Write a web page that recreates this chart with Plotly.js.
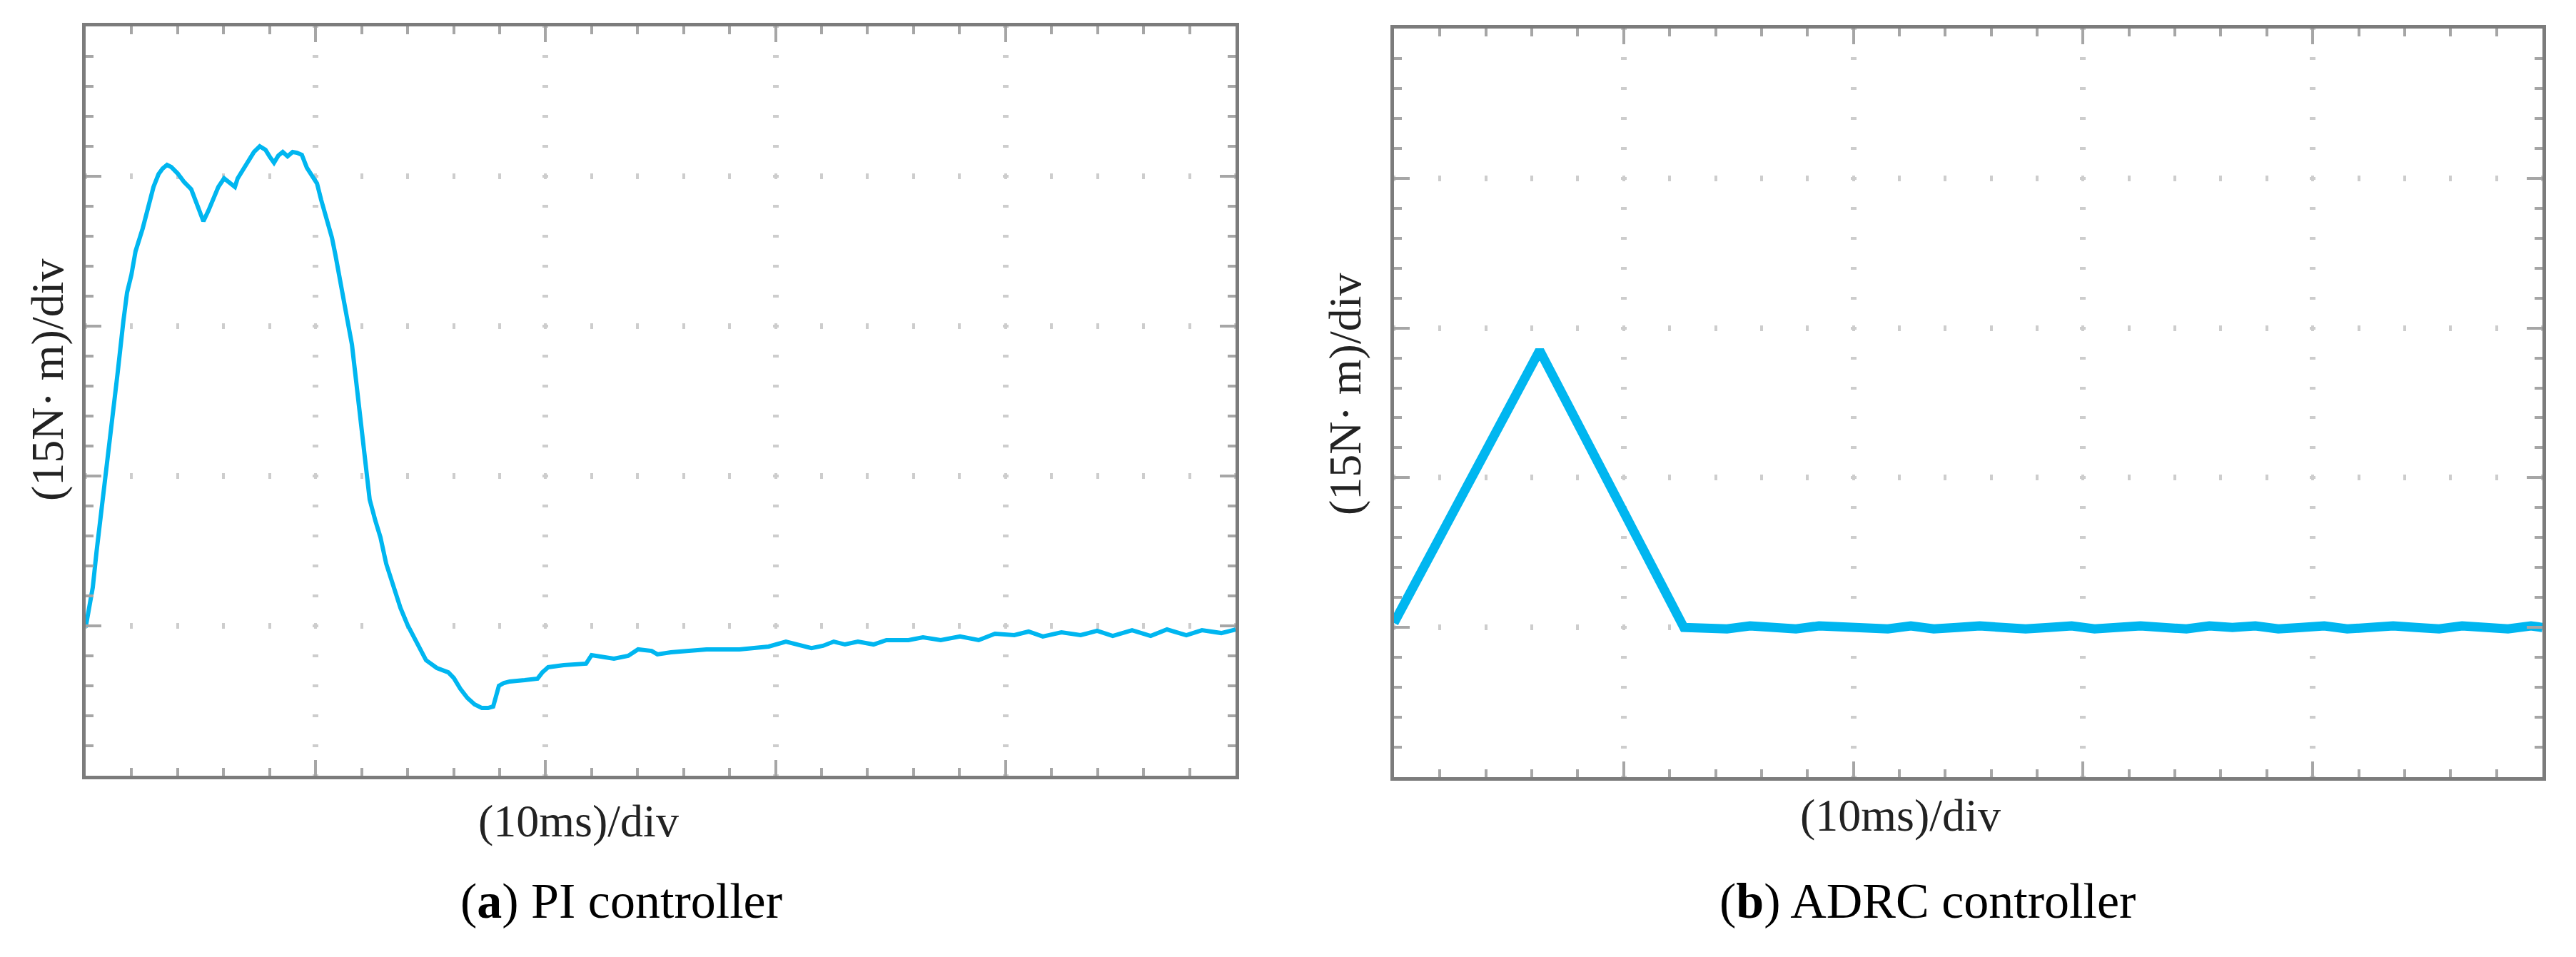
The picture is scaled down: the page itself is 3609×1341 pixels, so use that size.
<!DOCTYPE html>
<html>
<head>
<meta charset="utf-8">
<script src="https://cdn.plot.ly/plotly-3.0.1.min.js"></script>
<style>
html,body{margin:0;padding:0;background:#fff;}
#chart{width:3609px;height:1341px;}
</style>
</head>
<body>
<div id="chart"></div>
<script>
// ---- Data (in oscilloscope divisions: x = 10 ms/div, y = 15 N·m/div) ----
const piTime = [0,0.016,0.031,0.047,0.062,0.078,0.109,0.140,0.164,0.180,0.199,0.217,0.248,0.276,0.295,0.317,0.335,0.354,0.372,0.400,0.428,0.459,0.484,0.512,0.534,0.552,0.577,0.602,0.627,0.649,0.661,0.683,0.708,0.732,0.757,0.782,0.801,0.819,0.838,0.857,0.878,0.900,0.919,0.940,0.962,0.984,1.006,1.024,1.043,1.071,1.086,1.102,1.120,1.139,1.158,1.179,1.198,1.217,1.235,1.260,1.282,1.307,1.338,1.369,1.400,1.440,1.480,1.527,1.577,1.601,1.629,1.660,1.691,1.723,1.750,1.772,1.785,1.797,1.819,1.844,1.909,1.965,1.986,2.011,2.079,2.176,2.200,2.250,2.297,2.359,2.402,2.461,2.486,2.545,2.604,2.700,2.843,2.936,2.970,3.045,3.094,3.156,3.206,3.253,3.302,3.358,3.426,3.482,3.578,3.641,3.718,3.802,3.883,3.954,4.038,4.100,4.162,4.243,4.326,4.398,4.466,4.550,4.631,4.702,4.786,4.854,4.938,5.000];
const piTorque = [0.99,1.129,1.257,1.490,1.686,1.843,2.271,2.700,3.033,3.224,3.343,3.500,3.652,3.819,3.929,4.014,4.052,4.076,4.062,4.019,3.962,3.914,3.819,3.700,3.771,3.843,3.929,3.986,3.957,3.929,3.986,4.043,4.105,4.162,4.200,4.176,4.129,4.090,4.138,4.162,4.133,4.162,4.157,4.143,4.057,4.010,3.952,3.843,3.738,3.590,3.476,3.352,3.176,3.033,2.876,2.605,2.329,2.081,1.843,1.700,1.590,1.414,1.257,1.119,1.005,0.886,0.771,0.719,0.690,0.652,0.581,0.519,0.476,0.452,0.452,0.462,0.533,0.600,0.619,0.629,0.638,0.648,0.690,0.724,0.738,0.748,0.805,0.795,0.781,0.800,0.843,0.833,0.810,0.824,0.833,0.843,0.843,0.852,0.862,0.895,0.876,0.852,0.867,0.895,0.876,0.895,0.876,0.905,0.905,0.924,0.905,0.929,0.905,0.948,0.938,0.962,0.929,0.957,0.938,0.967,0.933,0.971,0.933,0.976,0.938,0.971,0.952,0.976];

const adrcTime = [0,0.634,1.262,1.35,1.45,1.55,1.65,1.75,1.85,1.95,2.05,2.15,2.25,2.35,2.45,2.55,2.65,2.75,2.85,2.95,3.05,3.15,3.25,3.35,3.45,3.55,3.65,3.75,3.85,3.95,4.05,4.15,4.25,4.35,4.45,4.55,4.65,4.75,4.85,4.95,5.0];
const adrcTorque = [1.03,2.85,1.00,1.00,0.99,1.01,1.00,0.99,1.01,1.00,1.00,0.99,1.01,0.99,1.00,1.01,1.00,0.99,1.00,1.01,0.99,1.00,1.01,1.00,0.99,1.01,1.00,1.01,0.99,1.00,1.01,0.99,1.00,1.01,1.00,0.99,1.01,1.00,0.99,1.01,1.00];

const xTitle = "(10ms)/div";
const yTitle = "(15N· m)/div";
const captionA = "(<b>a</b>) PI controller";
const captionB = "(<b>b</b>) ADRC controller";

// ---- Layout helpers (pixel -> paper) ----
const W = 3609, H = 1341;
const px = v => v / W;
const py = v => 1 - v / H;

const lineColor = '#00b6f0';
const axisColor = '#7c7c7c';
const tickColor = '#a6a6a6';
const gridColor = '#cdcdcd';
const serif = 'Liberation Serif, Times New Roman, serif';

function xAxis(domain, anchor, vPeriod) {
  const g = vPeriod - 4;
  return {
    domain: domain, anchor: anchor, range: [0, 5], fixedrange: true,
    showline: true, linecolor: axisColor, linewidth: 5, mirror: 'ticks',
    ticks: 'inside', ticklen: 22, tickwidth: 4, tickcolor: tickColor,
    tickmode: 'array', tickvals: [1, 2, 3, 4], showticklabels: false,
    showgrid: true, gridcolor: gridColor, gridwidth: 8,
    griddash: '2px,' + g.toFixed(2) + 'px,2px,0px',
    zeroline: false,
    minor: {ticks: 'inside', ticklen: 11, tickwidth: 4, tickcolor: tickColor,
            tickmode: 'linear', tick0: 0, dtick: 0.2, showgrid: false}
  };
}
function yAxis(domain, anchor, hPeriod) {
  const g = hPeriod - 4;
  return {
    domain: domain, anchor: anchor, range: [0, 5], fixedrange: true,
    showline: true, linecolor: axisColor, linewidth: 5, mirror: 'ticks',
    ticks: 'inside', ticklen: 22, tickwidth: 4, tickcolor: tickColor,
    tickmode: 'array', tickvals: [1, 2, 3, 4], showticklabels: false,
    showgrid: true, gridcolor: gridColor, gridwidth: 8,
    griddash: '2px,' + g.toFixed(2) + 'px,2px,0px',
    zeroline: false,
    minor: {ticks: 'inside', ticklen: 11, tickwidth: 4, tickcolor: tickColor,
            tickmode: 'linear', tick0: 0, dtick: 0.2, showgrid: false}
  };
}

// panel pixel boxes
const L = {x0: 120, x1: 1731, y0: 37, y1: 1087};
const R = {x0: 1953, x1: 3562, y0: 40, y1: 1089};

const traces = [
  {x: piTime, y: piTorque, xaxis: 'x', yaxis: 'y', type: 'scatter', mode: 'lines',
   line: {color: lineColor, width: 6}, hoverinfo: 'skip'},
  {x: adrcTime, y: adrcTorque, xaxis: 'x2', yaxis: 'y2', type: 'scatter', mode: 'lines',
   line: {color: lineColor, width: 13}, hoverinfo: 'skip'}
];

function ann(text, x, y, size, angle, color) {
  return {text: text, xref: 'paper', yref: 'paper', x: px(x), y: py(y),
          xanchor: 'center', yanchor: 'middle', showarrow: false, textangle: angle || 0,
          font: {family: serif, size: size, color: color}};
}

const layout = {
  width: W, height: H, autosize: false,
  margin: {l: 0, r: 0, t: 0, b: 0, pad: 0},
  paper_bgcolor: '#ffffff', plot_bgcolor: '#ffffff',
  showlegend: false,
  xaxis: xAxis([px(L.x0), px(L.x1)], 'y', (L.y1 - L.y0) / 25),
  yaxis: yAxis([py(L.y1), py(L.y0)], 'x', (L.x1 - L.x0) / 25),
  xaxis2: xAxis([px(R.x0), px(R.x1)], 'y2', (R.y1 - R.y0) / 25),
  yaxis2: yAxis([py(R.y1), py(R.y0)], 'x2', (R.x1 - R.x0) / 25),
  annotations: [
    ann(yTitle, 66, 532, 64, -90, '#222222'),
    ann(yTitle, 1884, 552, 64, -90, '#222222'),
    ann(xTitle, 810, 1150, 64, 0, '#222222'),
    ann(xTitle, 2662, 1142, 64, 0, '#222222'),
    ann(captionA, 870, 1262, 70, 0, '#000000'),
    ann(captionB, 2700, 1262, 70, 0, '#000000')
  ]
};

Plotly.newPlot('chart', traces, layout, {staticPlot: true, displayModeBar: false});
</script>
</body>
</html>
